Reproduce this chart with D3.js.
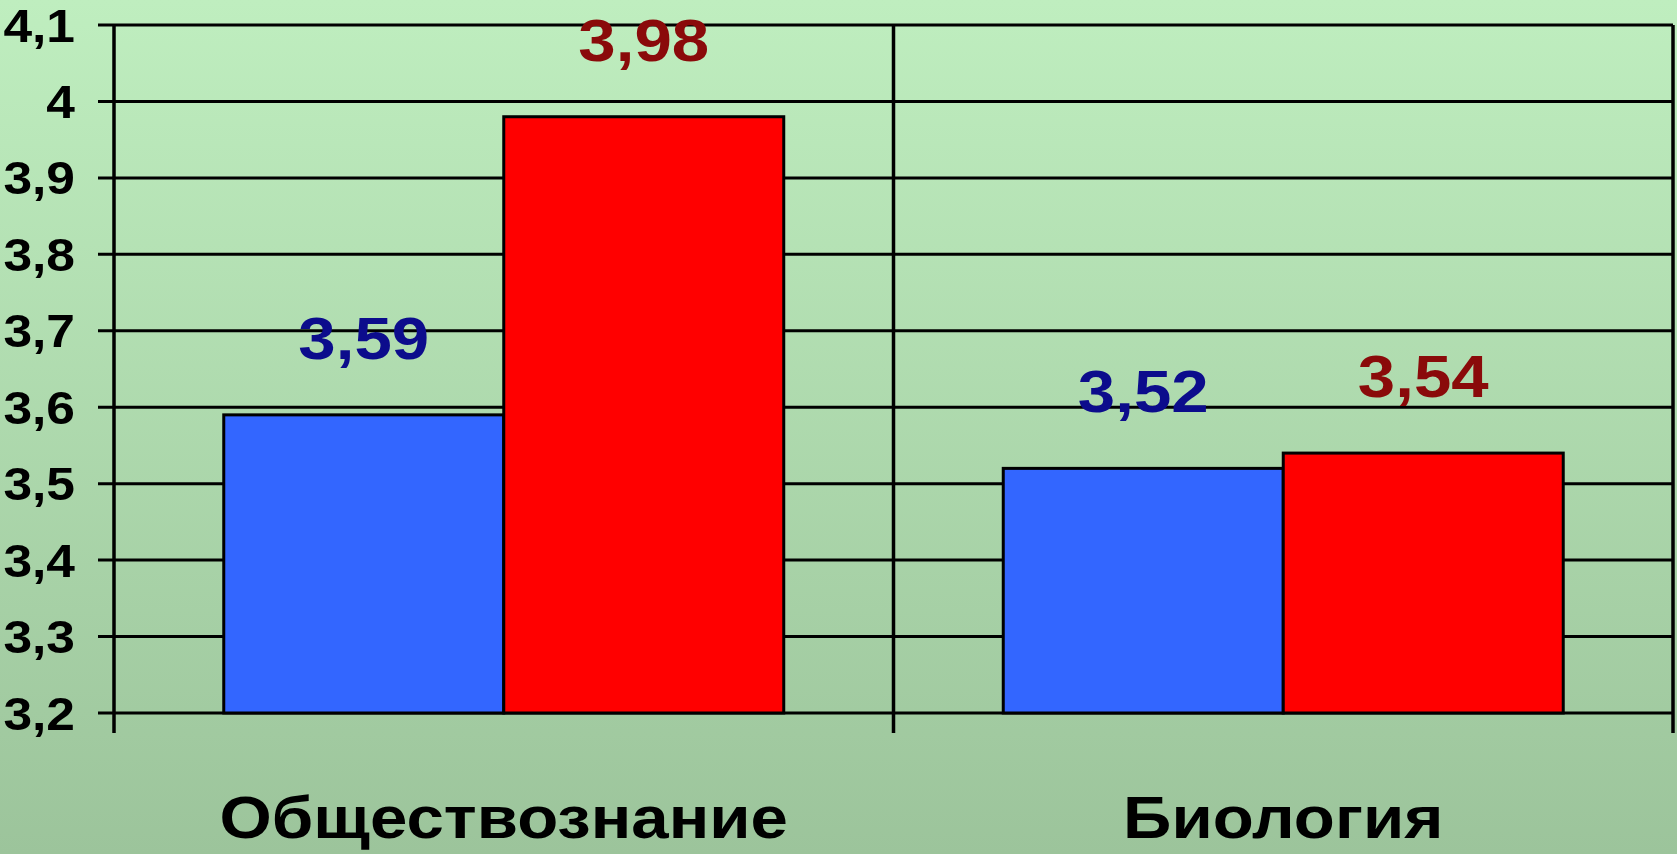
<!DOCTYPE html>
<html>
<head>
<meta charset="utf-8">
<script src="https://cdn.jsdelivr.net/npm/d3@7"></script>
<style>
  html, body { margin: 0; padding: 0; }
  svg { display: block; }
  text { font-family: Arial, "Liberation Sans", sans-serif; font-weight: bold; }
</style>
</head>
<body>
<svg id="chart" width="1677" height="854"></svg>
<script>
const categories = ['Обществознание', 'Биология']
const seriesNames = ['s1', 's2']
const series1 = [3.59, 3.52]
const series2 = [3.98, 3.54]
const yTicks = [3.2, 3.3, 3.4, 3.5, 3.6, 3.7, 3.8, 3.9, 4, 4.1]

const barColors = ['#3366ff', '#ff0000']
const labelColors = ['#0c0c8c', '#8a0a0a']
const stretch = 1.12

const svg = d3.select('#chart')

// background gradient
const grad = svg.append('defs').append('linearGradient')
    .attr('id', 'bg')
    .attr('x1', 0).attr('x2', 0)
    .attr('y1', 0).attr('y2', 1)
grad.append('stop').attr('offset', '0%').attr('stop-color', '#bfeebf')
grad.append('stop').attr('offset', '100%').attr('stop-color', '#9cc49b')

svg.append('rect')
    .attr('width', 1677)
    .attr('height', 854)
    .attr('fill', 'url(#bg)')

const plotLeft = 114
const plotRight = 1673
const plotTop = 25
const plotBottom = 713

const x = d3.scaleBand()
    .domain(categories)
    .range([plotLeft, plotRight])
    .padding(0)

const xs = d3.scaleBand()
    .domain(seriesNames)
    .range([0, x.bandwidth()])
    .paddingInner(0)
    .paddingOuter(0.392)

const y = d3.scaleLinear()
    .domain([3.2, 4.1])
    .range([plotBottom, plotTop])

const fmt = v => String(v).replace('.', ',')

// gridlines + y ticks
svg.append('g')
    .selectAll('line')
    .data(yTicks)
    .join('line')
    .attr('x1', plotLeft - 16)
    .attr('x2', plotRight)
    .attr('y1', d => y(d))
    .attr('y2', d => y(d))
    .attr('stroke', '#000')
    .attr('stroke-width', 3)

svg.append('g')
    .selectAll('text')
    .data(yTicks)
    .join('text')
    .attr('transform', d => `translate(${plotLeft - 39},${y(d)}) scale(${stretch},1)`)
    .attr('text-anchor', 'end')
    .attr('dy', '0.36em')
    .attr('font-size', 46)
    .attr('fill', '#000')
    .text(fmt)

// bars
const rows = categories.map((c, i) => [
  { cat: c, key: 's1', value: series1[i], idx: 0 },
  { cat: c, key: 's2', value: series2[i], idx: 1 },
]).flat()

svg.append('g')
    .selectAll('rect')
    .data(rows)
    .join('rect')
    .attr('x', d => x(d.cat) + xs(d.key))
    .attr('width', xs.bandwidth())
    .attr('y', d => y(d.value))
    .attr('height', d => y(3.2) - y(d.value))
    .attr('fill', d => barColors[d.idx])
    .attr('stroke', '#000')
    .attr('stroke-width', 3)

// value labels
svg.append('g')
    .selectAll('text')
    .data(rows)
    .join('text')
    .attr('transform', d => `translate(${x(d.cat) + xs(d.key) + xs.bandwidth() / 2},${y(d.value) - 56}) scale(${stretch},1)`)
    .attr('text-anchor', 'middle')
    .attr('font-size', 60)
    .attr('fill', d => labelColors[d.idx])
    .text(d => fmt(d.value))

// axes: vertical lines at category boundaries
const bounds = [plotLeft, plotLeft + x.bandwidth(), plotRight]

svg.append('g')
    .selectAll('line')
    .data(bounds)
    .join('line')
    .attr('x1', d => d)
    .attr('x2', d => d)
    .attr('y1', plotTop)
    .attr('y2', plotBottom + 20)
    .attr('stroke', '#000')
    .attr('stroke-width', 3.5)

// category labels
svg.append('g')
    .selectAll('text')
    .data(categories)
    .join('text')
    .attr('transform', d => `translate(${x(d) + x.bandwidth() / 2},838) scale(${stretch},1)`)
    .attr('text-anchor', 'middle')
    .attr('font-size', 60)
    .attr('fill', '#000')
    .text(d => d)
</script>
</body>
</html>
